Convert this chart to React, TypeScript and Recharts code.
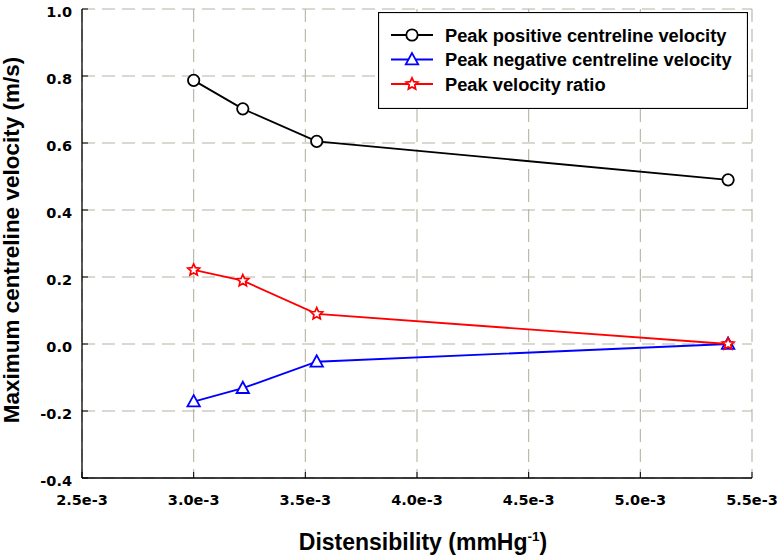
import React from 'react';
import { LineChart, Line, XAxis, YAxis, CartesianGrid, Legend } from 'recharts';

const distensibility = [0.003, 0.00322, 0.003551, 0.005393];
const peakPositive = [0.787, 0.702, 0.605, 0.49];
const peakNegative = [-0.172, -0.132, -0.053, 0.0];
const velocityRatio = [0.221, 0.189, 0.09, 0.0];

const xTicks = [0.0025, 0.003, 0.0035, 0.004, 0.0045, 0.005, 0.0055];
const yTicks = [-0.4, -0.2, 0, 0.2, 0.4, 0.6, 0.8, 1.0];

const seriesNames = [
  'Peak positive centreline velocity',
  'Peak negative centreline velocity',
  'Peak velocity ratio',
];
const seriesKeys = ['pos', 'neg', 'ratio'];
const seriesColors = ['#000000', '#0000ff', '#ff0000'];
const seriesMarkers = ['circle', 'triangle', 'star'];

const data = distensibility.map((d, i) => ({
  x: d,
  pos: peakPositive[i],
  neg: peakNegative[i],
  ratio: velocityRatio[i],
}));

const fmtX = (v: number) => `${(v * 1000).toFixed(1)}e-3`;
const fmtY = (v: number) => v.toFixed(1);

function Marker({ kind, cx, cy, color }: { kind: string; cx: number; cy: number; color: string }) {
  if (kind === 'circle') {
    return <circle cx={cx} cy={cy} r={5.7} fill="#ffffff" stroke={color} strokeWidth={1.8} />;
  }
  if (kind === 'triangle') {
    const pts = `${cx},${cy - 6.5} ${cx - 6.2},${cy + 4.8} ${cx + 6.2},${cy + 4.8}`;
    return <polygon points={pts} fill="#ffffff" stroke={color} strokeWidth={1.8} />;
  }
  const pts: string[] = [];
  for (let k = 0; k < 10; k++) {
    const r = k % 2 === 0 ? 6.2 : 2.9;
    const a = -Math.PI / 2 + (k * Math.PI) / 5;
    pts.push(`${cx + r * Math.cos(a)},${cy + r * Math.sin(a)}`);
  }
  return <polygon points={pts.join(' ')} fill="#ffffff" stroke={color} strokeWidth={1.7} />;
}

const makeDot = (kind: string, color: string) => (props: any) => {
  const { cx, cy, index } = props;
  if (cx == null || cy == null) return <g key={`d${index}`} />;
  return (
    <g key={`${kind}-${index}`}>
      <Marker kind={kind} cx={cx} cy={cy} color={color} />
    </g>
  );
};

const LegendBox = () => (
  <svg width={370} height={97} style={{ display: 'block' }}>
    <rect x={0.5} y={0.5} width={369} height={96} fill="#ffffff" stroke="#000" strokeWidth={1.2} />
    {seriesNames.map((name, i) => {
      const y = 23 + i * 24.5;
      return (
        <g key={name}>
          <line x1={13} x2={55} y1={y} y2={y} stroke={seriesColors[i]} strokeWidth={1.8} />
          <Marker kind={seriesMarkers[i]} cx={34} cy={y} color={seriesColors[i]} />
          <text
            x={67}
            y={y + 6.5}
            fontFamily="'Liberation Sans', Arial, sans-serif"
            fontWeight="bold"
            fontSize={18.3}
            fill="#000"
          >
            {name}
          </text>
        </g>
      );
    })}
  </svg>
);

const tickFamily = "'DejaVu Sans', sans-serif";
const tickSize = 14.5;
const titleFont = "'Liberation Sans', Arial, sans-serif";

const XTick = (props: any) => (
  <text
    x={props.x}
    y={props.y + 33}
    textAnchor="middle"
    fontFamily={tickFamily}
    fontWeight="bold"
    fontSize={tickSize}
    fill="#000"
  >
    {fmtX(props.payload.value)}
  </text>
);

const YTick = (props: any) => (
  <text
    x={props.x}
    y={props.y + 7.5}
    textAnchor="end"
    fontFamily={tickFamily}
    fontWeight="bold"
    fontSize={tickSize}
    fill="#000"
  >
    {fmtY(props.payload.value)}
  </text>
);

export default function App() {
  return (
    <div style={{ position: 'absolute', left: 0, top: 0, width: 781, height: 557, background: '#fff' }}>
      <LineChart width={781} height={557} data={data} margin={{ top: 9, right: 29, left: 0, bottom: 0 }}>
        <CartesianGrid stroke="#b4b4a4" strokeDasharray="13 7" strokeWidth={1.1} />
        <XAxis
          type="number"
          dataKey="x"
          domain={[0.0025, 0.0055]}
          ticks={xTicks}
          allowDataOverflow
          height={79}
          tickSize={-6}
          tickMargin={0}
          axisLine={{ stroke: '#000', strokeWidth: 1.3 }}
          tickLine={{ stroke: '#000' }}
          tick={<XTick />}
          label={{
            content: (p: any) => {
              const vb = p.viewBox || { x: 82, y: 478, width: 670 };
              return (
                <text
                  x={vb.x + vb.width / 2 + 6}
                  y={vb.y + 72}
                  textAnchor="middle"
                  fontFamily={titleFont}
                  fontWeight="bold"
                  fontSize={23}
                  fill="#000"
                >
                  Distensibility (mmHg
                  <tspan dy={-9} fontSize={13.5}>-1</tspan>
                  <tspan dy={9}>)</tspan>
                </text>
              );
            },
          }}
        />
        <XAxis
          xAxisId="top"
          orientation="top"
          type="number"
          dataKey="x"
          domain={[0.0025, 0.0055]}
          ticks={xTicks}
          allowDataOverflow
          height={0}
          tickSize={-6}
          tick={false}
          axisLine={{ stroke: '#000', strokeWidth: 1.3 }}
          tickLine={{ stroke: '#000' }}
        />
        <YAxis
          type="number"
          domain={[-0.4, 1.0]}
          ticks={yTicks}
          allowDataOverflow
          width={82}
          tickSize={-6}
          tickMargin={16}
          axisLine={{ stroke: '#000', strokeWidth: 1.3 }}
          tickLine={{ stroke: '#000' }}
          tick={<YTick />}
          label={{
            content: (p: any) => {
              const vb = p.viewBox || { x: 0, y: 9, width: 82, height: 469 };
              const cx = 19;
              const cy = vb.y + vb.height / 2 - 3.5;
              return (
                <text
                  x={cx}
                  y={cy}
                  transform={`rotate(-90 ${cx} ${cy})`}
                  textAnchor="middle"
                  fontFamily={titleFont}
                  fontWeight="bold"
                  fontSize={22.5}
                  fill="#000"
                >
                  Maximum centreline velocity (m/s)
                </text>
              );
            },
          }}
        />
        <YAxis
          yAxisId="right"
          orientation="right"
          type="number"
          domain={[-0.4, 1.0]}
          ticks={yTicks}
          allowDataOverflow
          width={0}
          tickSize={-6}
          tick={false}
          axisLine={{ stroke: '#000', strokeWidth: 1.3 }}
          tickLine={{ stroke: '#000' }}
        />
        {seriesKeys.map((k, i) => (
          <Line
            key={k}
            dataKey={k}
            name={seriesNames[i]}
            type="linear"
            stroke={seriesColors[i]}
            strokeWidth={1.8}
            dot={makeDot(seriesMarkers[i], seriesColors[i])}
            activeDot={false}
            isAnimationActive={false}
          />
        ))}
        <Legend
          layout="vertical"
          align="center"
          verticalAlign="middle"
          wrapperStyle={{ left: 378, top: 12, width: 370, height: 97, right: 'auto', bottom: 'auto' }}
          content={() => <LegendBox />}
        />
      </LineChart>
    </div>
  );
}
